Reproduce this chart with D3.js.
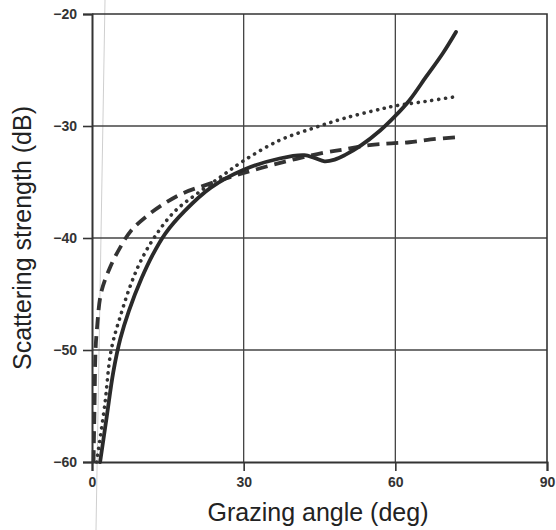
<!DOCTYPE html>
<html>
<head>
<meta charset="utf-8">
<script src="https://cdn.jsdelivr.net/npm/d3@7"></script>
<style>
  html, body { margin: 0; padding: 0; background: #fff; }
  svg { display: block; }
  .tick-label { font-family: "Liberation Sans", Arial, sans-serif; font-size: 14px; font-weight: bold; fill: #333; }
  .axis-title { font-family: "Liberation Sans", Arial, sans-serif; font-size: 25px; fill: #222; }
</style>
</head>
<body>
<div id="chart"></div>
<script>
// Values (angle in deg, strength in dB)
const solidAngle = [1.6, 2.9, 4.2, 5.6, 7.3, 9.8, 12, 14.5, 18.3, 23.5, 30, 37.1, 42, 44, 46, 48, 50, 53, 57, 60, 62.8, 66.1, 69.4, 72];
const solidDb    = [-60, -56, -52, -49, -46.5, -43.6, -41.5, -39.6, -37.6, -35.5, -33.9, -32.9, -32.6, -32.85, -33.15, -33.0, -32.6, -31.8, -30.4, -29.1, -27.7, -25.6, -23.5, -21.6];

const dottedAngle = [0.9, 2.5, 3.8, 5.8, 7.8, 9.7, 12.4, 16.3, 20.9, 25.9, 30, 37, 43.7, 50, 57, 60, 66, 71.7];
const dottedDb    = [-60, -55, -50, -46.7, -44.0, -42.0, -39.9, -37.65, -36.0, -34.4, -33.1, -31.3, -30.2, -29.3, -28.5, -28.2, -27.8, -27.4];

const dashedAngle = [0.3, 0.5, 0.7, 1.0, 1.8, 3.5, 5.5, 7.8, 11.1, 14.4, 18, 22.3, 30, 38, 45.7, 49.7, 54.9, 59.2, 62.8, 67, 72];
const dashedDb    = [-60, -55, -50, -48, -44.9, -42.7, -40.9, -39.3, -37.95, -36.9, -36.0, -35.3, -34.2, -33.2, -32.4, -32.1, -31.7, -31.55, -31.45, -31.2, -31.0];

const xTicks = [0, 30, 60, 90];
const yTicks = [-60, -50, -40, -30, -20];

const width = 556, height = 530;

const x = d3.scaleLinear().domain([0, 90]).range([92, 547]);
const y = d3.scaleLinear().domain([-60, -20]).range([462, 14]);

const svg = d3.select('#chart').append('svg')
  .attr('width', width)
  .attr('height', height);

// faint scanner streak seen on the original
svg.append('line')
  .attr('x1', 105).attr('y1', 0).attr('x2', 96).attr('y2', height)
  .attr('stroke', '#cfcfcf').attr('stroke-width', 1);

// grid lines
svg.append('g').selectAll('line')
  .data(xTicks.slice(1, -1))
  .join('line')
  .attr('x1', d => x(d)).attr('x2', d => x(d))
  .attr('y1', y(-20)).attr('y2', y(-60))
  .attr('stroke', '#444').attr('stroke-width', 1.3);

svg.append('g').selectAll('line')
  .data(yTicks.slice(1, -1))
  .join('line')
  .attr('x1', x(0)).attr('x2', x(90))
  .attr('y1', d => y(d)).attr('y2', d => y(d))
  .attr('stroke', '#444').attr('stroke-width', 1.3);

// frame: top and right borders
svg.append('path')
  .attr('d', `M${x(0)},${y(-20)}H${x(90)}V${y(-60)}`)
  .attr('fill', 'none').attr('stroke', '#333').attr('stroke-width', 1.6);

// left axis
const yAxis = svg.append('g')
  .attr('transform', `translate(${x(0)},0)`)
  .call(d3.axisLeft(y).tickValues(yTicks).tickSize(9).tickPadding(6).tickFormat(d3.format('d')));
yAxis.select('.domain').attr('stroke', '#333').attr('stroke-width', 2);
yAxis.selectAll('.tick line').attr('stroke', '#333').attr('stroke-width', 1.6);
yAxis.selectAll('.tick text').attr('class', 'tick-label').attr('font-size', null).attr('font-family', null);

// bottom axis
const xAxis = svg.append('g')
  .attr('transform', `translate(0,${y(-60)})`)
  .call(d3.axisBottom(x).tickValues(xTicks).tickSize(9).tickPadding(6).tickFormat(d3.format('d')));
xAxis.select('.domain').attr('stroke', '#333').attr('stroke-width', 2);
xAxis.selectAll('.tick line').attr('stroke', '#333').attr('stroke-width', 1.6);
xAxis.selectAll('.tick text').attr('class', 'tick-label').attr('font-size', null).attr('font-family', null);

// curves
const line = d3.line()
  .x(d => x(d[0]))
  .y(d => y(d[1]))
  .curve(d3.curveCatmullRom.alpha(0.5));

const zip = (a, b) => a.map((v, i) => [v, b[i]]);

svg.append('path')
  .datum(zip(dottedAngle, dottedDb))
  .attr('d', line)
  .attr('fill', 'none')
  .attr('stroke', '#333')
  .attr('stroke-width', 3.6)
  .attr('stroke-linecap', 'round')
  .attr('stroke-dasharray', '0.1 6.8');

svg.append('path')
  .datum(zip(dashedAngle, dashedDb))
  .attr('d', line)
  .attr('fill', 'none')
  .attr('stroke', '#333')
  .attr('stroke-width', 3.8)
  .attr('stroke-dasharray', '12 7');

svg.append('path')
  .datum(zip(solidAngle, solidDb))
  .attr('d', line)
  .attr('fill', 'none')
  .attr('stroke', '#2a2a2a')
  .attr('stroke-width', 3.8)
  .attr('stroke-linecap', 'round');

// axis titles
svg.append('text')
  .attr('class', 'axis-title')
  .attr('x', 318).attr('y', 521)
  .attr('text-anchor', 'middle')
  .text('Grazing angle (deg)');

svg.append('text')
  .attr('class', 'axis-title')
  .attr('transform', `translate(31,238) rotate(-90)`)
  .attr('text-anchor', 'middle')
  .text('Scattering strength (dB)');
</script>
</body>
</html>
